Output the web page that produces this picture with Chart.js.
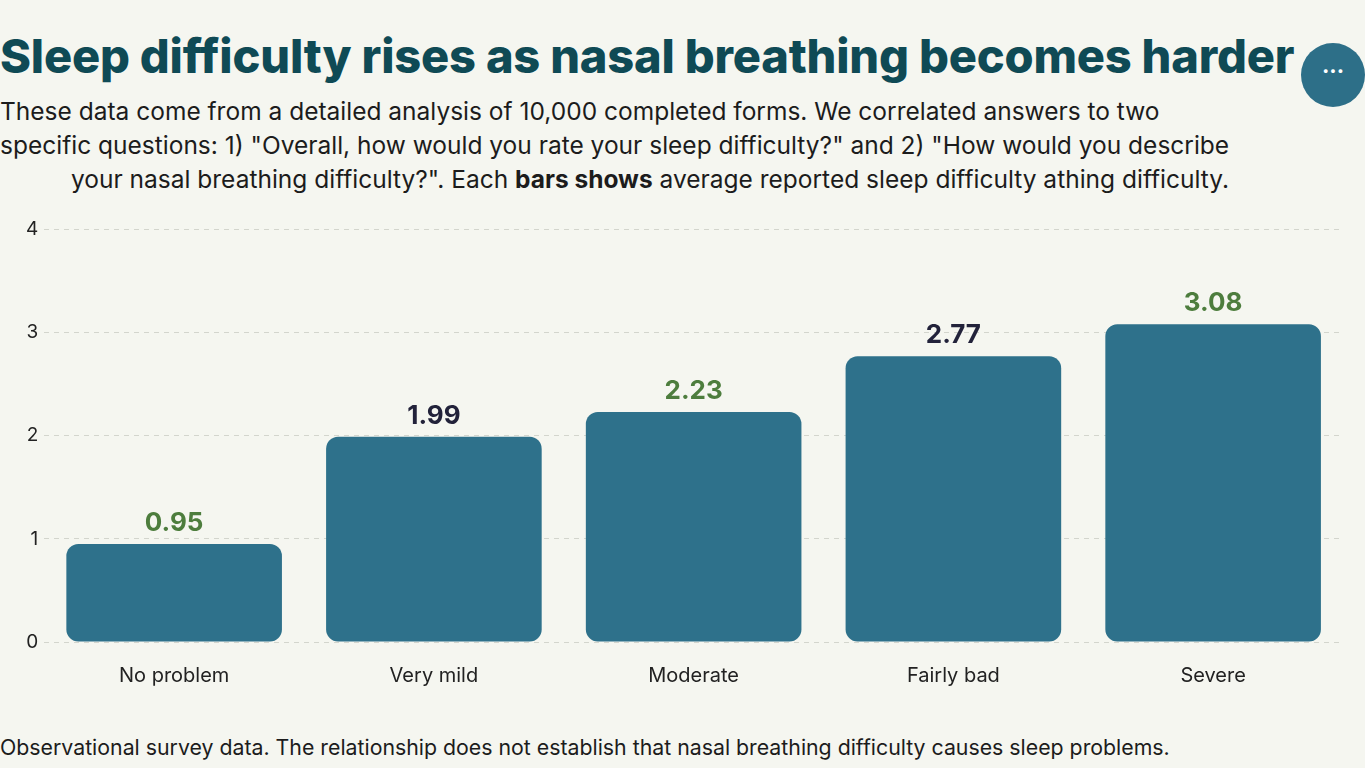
<!DOCTYPE html>
<html>
<head>
<meta charset="utf-8">
<script src="https://cdn.jsdelivr.net/npm/chart.js@4"></script>
<style>
  body { margin: 0; background: #f5f6f0; font-family: Inter, "Noto Sans", sans-serif; width: 1365px; height: 768px; overflow: hidden; position: relative; }
  h1 { position: absolute; left: 0; top: 27px; margin: 0; font-size: 47px; font-weight: 800; color: #0f4a55; letter-spacing: -0.2px; white-space: nowrap; }
  .sub { position: absolute; left: 0; top: 94px; width: 1300px; margin: 0; font-size: 24.5px; line-height: 34px; color: #1c1c1c; }
  .sub .c { display: block; text-align: center; }
  .btn { position: absolute; left: 1301px; top: 43px; width: 64px; height: 64px; border-radius: 50%; background: #2d6f88; color: #fff; font-size: 22px; text-align: center; line-height: 56px; font-weight: bold; }
  .foot { position: absolute; left: 0; top: 734px; font-size: 21.3px; color: #1c1c1c; white-space: nowrap; }
  #wrap { position: absolute; left: 0; top: 212px; width: 1365px; height: 490px; }
</style>
</head>
<body>
<h1>Sleep difficulty rises as nasal breathing becomes harder</h1>
<div class="btn">···</div>
<p class="sub">These data come from a detailed analysis of 10,000 completed forms. We correlated answers to two<br>specific questions: 1) "Overall, how would you rate your sleep difficulty?" and 2) "How would you describe<span class="c">your nasal breathing difficulty?". Each <b>bars shows</b> average reported sleep difficulty athing difficulty.</span></p>
<div id="wrap"><canvas id="myChart"></canvas></div>
<div class="foot">Observational survey data. The relationship does not establish that nasal breathing difficulty causes sleep problems.</div>
<script>
const categories = ["No problem", "Very mild", "Moderate", "Fairly bad", "Severe"];
const sleepDifficulty = [0.95, 1.99, 2.23, 2.77, 3.08];
const labelColors = ["#4d7d3d", "#22223a", "#4d7d3d", "#22223a", "#4d7d3d"];
const yTicks = [0, 1, 2, 3, 4];

const valueLabels = {
  id: "valueLabels",
  afterDatasetsDraw(chart) {
    const ctx = chart.ctx;
    const meta = chart.getDatasetMeta(0);
    ctx.save();
    ctx.font = "bold 26px Inter, 'Noto Sans', sans-serif";
    ctx.textAlign = "center";
    ctx.textBaseline = "bottom";
    meta.data.forEach((bar, i) => {
      ctx.fillStyle = labelColors[i];
      ctx.fillText(sleepDifficulty[i].toFixed(2), bar.x, bar.y - 8);
    });
    ctx.restore();
  }
};

new Chart(document.getElementById("myChart"), {
  type: "bar",
  data: {
    labels: categories,
    datasets: [{
      data: sleepDifficulty,
      backgroundColor: "#2e718b",
      borderRadius: 12,
      borderSkipped: false,
      barPercentage: 0.83,
      categoryPercentage: 1
    }]
  },
  options: {
    responsive: true,
    maintainAspectRatio: false,
    animation: false,
    layout: { padding: { left: 20, right: 22, top: 10, bottom: 0 } },
    plugins: { legend: { display: false }, tooltip: { enabled: false } },
    scales: {
      x: {
        grid: { display: false },
        border: { display: false },
        ticks: { color: "#222", font: { size: 20, family: "Inter, 'Noto Sans', sans-serif" }, padding: 14 }
      },
      y: {
        min: 0, max: 4,
        afterBuildTicks: (axis) => { axis.ticks = yTicks.map((v) => ({ value: v })); },
        grid: { color: "#d3d5cd", lineWidth: 1, drawTicks: false },
        border: { display: false, dash: [5, 5] },
        ticks: { color: "#222", font: { size: 19, family: "Inter, 'Noto Sans', sans-serif" }, padding: 6 }
      }
    }
  },
  plugins: [valueLabels]
});
</script>
</body>
</html>
